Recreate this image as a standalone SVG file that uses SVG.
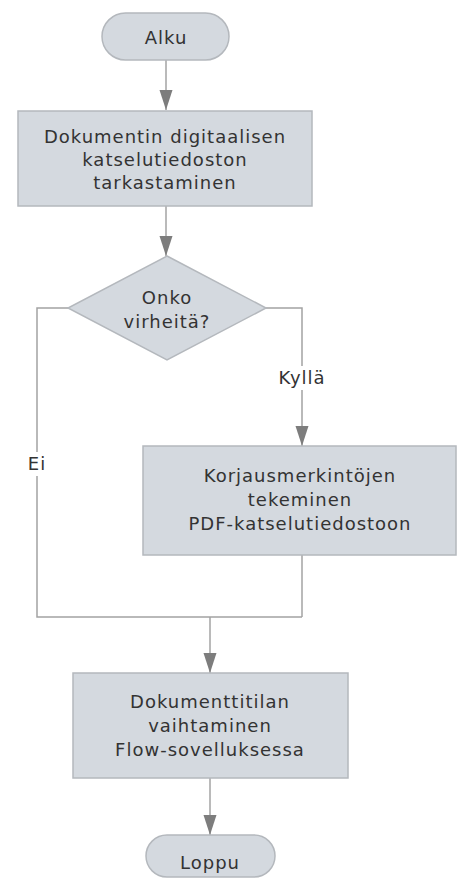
<svg xmlns="http://www.w3.org/2000/svg" width="459" height="879" viewBox="0 0 459 879">
  <style>
    .shape { fill: #d4d9df; stroke: #b4b8bd; stroke-width: 1.5; }
    .lbl { font-family: "DejaVu Sans", Verdana, sans-serif; font-size: 18px; fill: #333333; text-anchor: middle; letter-spacing: 1px; }
    .edge { fill: none; stroke: #a3a3a3; stroke-width: 1.5; }
    .mask { fill: #ffffff; }
  </style>
  <defs>
    <marker id="arrow" markerUnits="userSpaceOnUse" markerWidth="21" markerHeight="14" refX="20" refY="7" orient="auto">
      <path d="M0,0.5 L20,7 L0,13.5 z" fill="#7d7d7d"/>
    </marker>
  </defs>
  <rect width="459" height="879" fill="#ffffff"/>

  <!-- connectors -->
  <g id="connectors">
    <path class="edge" d="M166,60 V110" marker-end="url(#arrow)"/>
    <path class="edge" d="M166,206 V256" marker-end="url(#arrow)"/>
    <path class="edge" d="M266,308 H302 V446" marker-end="url(#arrow)"/>
    <path class="edge" d="M68,308 H37 V617 H302"/>
    <path class="edge" d="M302,555 V617"/>
    <path class="edge" d="M210,617 V673" marker-end="url(#arrow)"/>
    <path class="edge" d="M210,778 V835" marker-end="url(#arrow)"/>
    <rect class="mask" x="278" y="366" width="48" height="24"/>
    <text class="lbl" x="302" y="384">Kyllä</text>
    <rect class="mask" x="26" y="452" width="22" height="24"/>
    <text class="lbl" x="37" y="470">Ei</text>
  </g>

  <g id="alku">
    <rect class="shape" x="102" y="13" width="127" height="47" rx="23.5" ry="23.5"/>
    <text class="lbl" x="166" y="44">Alku</text>
  </g>

  <g id="tarkastus">
    <rect class="shape" x="18" y="111" width="294" height="95"/>
    <text class="lbl" x="165" y="143">Dokumentin digitaalisen</text>
    <text class="lbl" x="165" y="166">katselutiedoston</text>
    <text class="lbl" x="165" y="189">tarkastaminen</text>
  </g>

  <g id="virheita">
    <polygon class="shape" points="167,256 266,308 167,360 68,308"/>
    <text class="lbl" x="167" y="304">Onko</text>
    <text class="lbl" x="167" y="328">virheitä?</text>
  </g>

  <g id="korjaus">
    <rect class="shape" x="143" y="446" width="313" height="109"/>
    <text class="lbl" x="300" y="482">Korjausmerkintöjen</text>
    <text class="lbl" x="300" y="506">tekeminen</text>
    <text class="lbl" x="300" y="530">PDF-katselutiedostoon</text>
  </g>

  <g id="tila">
    <rect class="shape" x="73" y="673" width="275" height="105"/>
    <text class="lbl" x="210" y="708">Dokumenttitilan</text>
    <text class="lbl" x="210" y="732">vaihtaminen</text>
    <text class="lbl" x="210" y="756">Flow-sovelluksessa</text>
  </g>

  <g id="loppu">
    <rect class="shape" x="146" y="835" width="129" height="42" rx="21" ry="21"/>
    <text class="lbl" x="210" y="869">Loppu</text>
  </g>
</svg>
